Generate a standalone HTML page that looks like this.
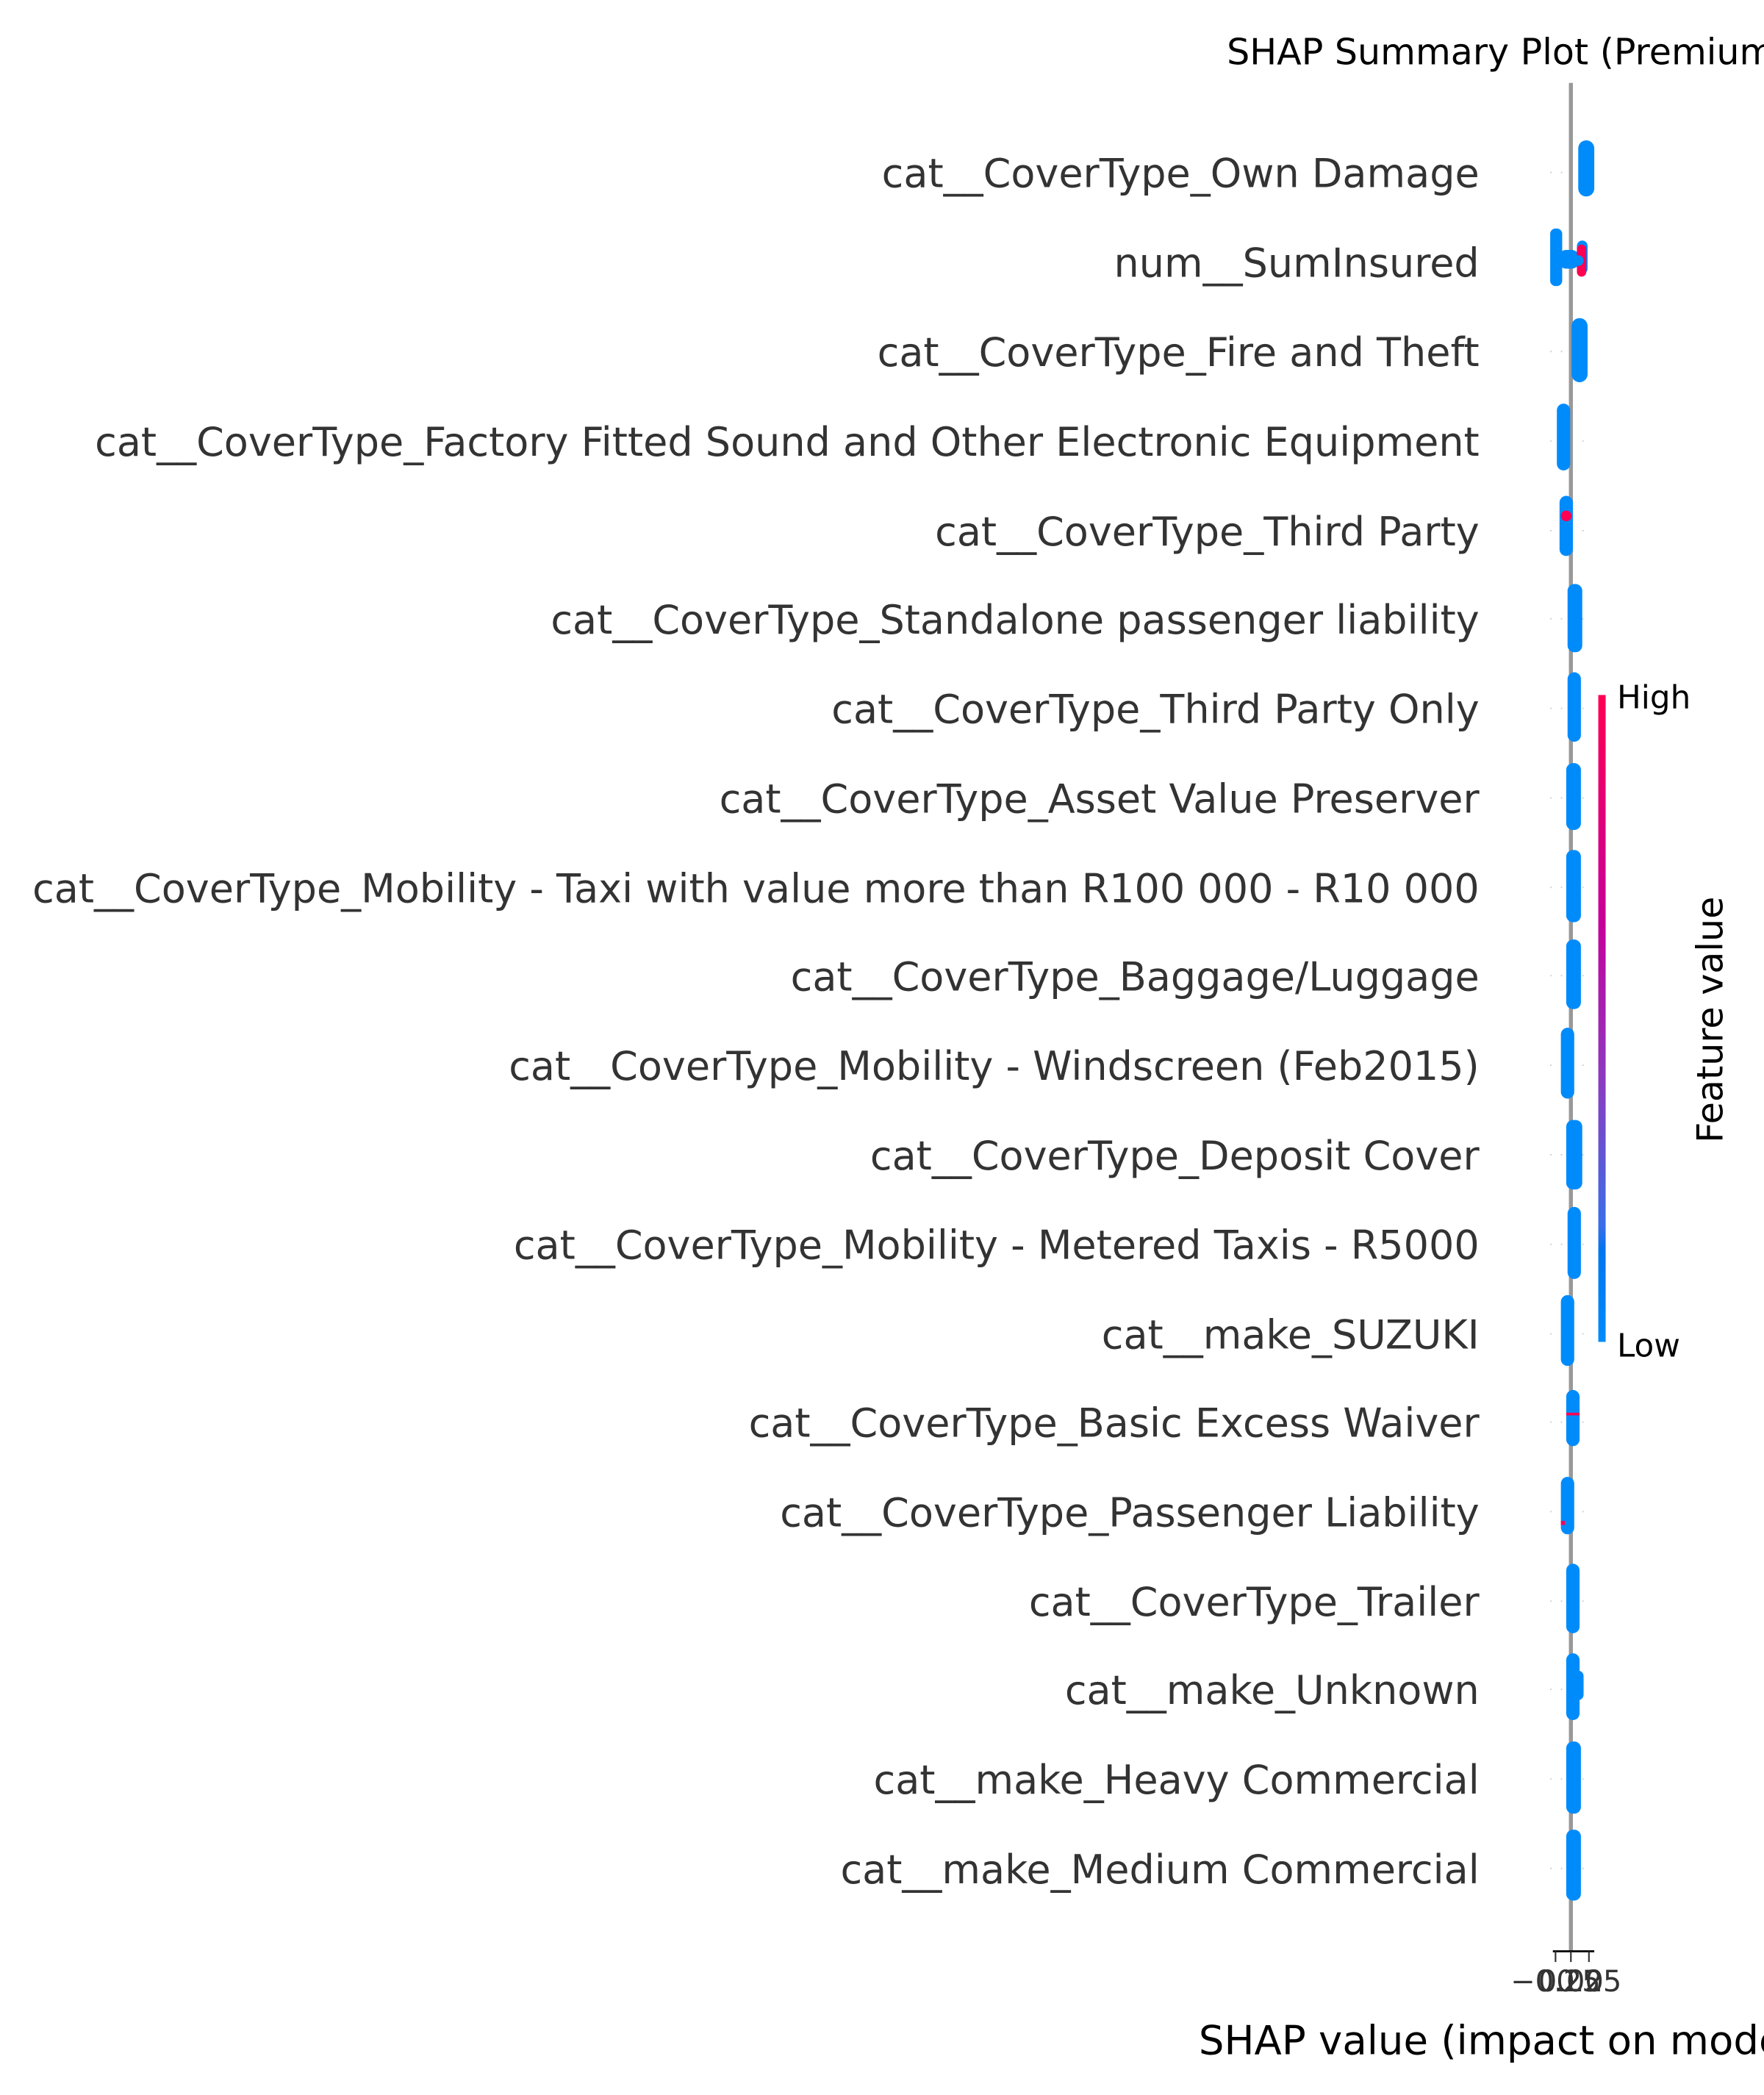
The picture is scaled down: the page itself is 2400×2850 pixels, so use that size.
<!DOCTYPE html>
<html><head><meta charset="utf-8"><style>html,body{margin:0;padding:0;background:#fff;}svg{display:block}</style></head>
<body>
<svg width="2400" height="2850" viewBox="0 0 1320 1567.5" xmlns="http://www.w3.org/2000/svg" font-family="DejaVu Sans, Liberation Sans, sans-serif">
<defs>
<linearGradient id="cb" x1="0" y1="0" x2="0" y2="1">
<stop offset="0" stop-color="#ff0052"/>
<stop offset="0.35" stop-color="#c6009a"/>
<stop offset="0.6" stop-color="#8a3cc0"/>
<stop offset="0.82" stop-color="#3a6ee8"/>
<stop offset="0.86" stop-color="#0076ee"/>
<stop offset="1" stop-color="#008bfb"/>
</linearGradient>
</defs>
<rect width="1320" height="1567.5" fill="#fff"/>
<text x="918" y="48" font-size="27" fill="#000">SHAP Summary Plot (Premium)</text>
<g stroke="#ccc" stroke-width="1" stroke-dasharray="1,7">
<line x1="1160" y1="129" x2="1192" y2="129"/><line x1="1160" y1="196" x2="1192" y2="196"/><line x1="1160" y1="263" x2="1192" y2="263"/><line x1="1160" y1="330" x2="1192" y2="330"/><line x1="1160" y1="397" x2="1192" y2="397"/><line x1="1160" y1="463" x2="1192" y2="463"/><line x1="1160" y1="530" x2="1192" y2="530"/><line x1="1160" y1="597" x2="1192" y2="597"/><line x1="1160" y1="664" x2="1192" y2="664"/><line x1="1160" y1="730" x2="1192" y2="730"/><line x1="1160" y1="797" x2="1192" y2="797"/><line x1="1160" y1="864" x2="1192" y2="864"/><line x1="1160" y1="931" x2="1192" y2="931"/><line x1="1160" y1="998" x2="1192" y2="998"/><line x1="1160" y1="1064" x2="1192" y2="1064"/><line x1="1160" y1="1131" x2="1192" y2="1131"/><line x1="1160" y1="1198" x2="1192" y2="1198"/><line x1="1160" y1="1264" x2="1192" y2="1264"/><line x1="1160" y1="1331" x2="1192" y2="1331"/><line x1="1160" y1="1398" x2="1192" y2="1398"/>
</g>
<line x1="1175.5" y1="62" x2="1175.5" y2="1460" stroke="#999" stroke-width="3"/>
<g font-size="29.7" fill="#333" text-anchor="end">
<text x="1107" y="140">cat__CoverType_Own Damage</text>
<text x="1107" y="207">num__SumInsured</text>
<text x="1107" y="274">cat__CoverType_Fire and Theft</text>
<text x="1107" y="341">cat__CoverType_Factory Fitted Sound and Other Electronic Equipment</text>
<text x="1107" y="408">cat__CoverType_Third Party</text>
<text x="1107" y="474">cat__CoverType_Standalone passenger liability</text>
<text x="1107" y="541">cat__CoverType_Third Party Only</text>
<text x="1107" y="608">cat__CoverType_Asset Value Preserver</text>
<text x="1107" y="675">cat__CoverType_Mobility - Taxi with value more than R100 000 - R10 000</text>
<text x="1107" y="741">cat__CoverType_Baggage/Luggage</text>
<text x="1107" y="808">cat__CoverType_Mobility - Windscreen (Feb2015)</text>
<text x="1107" y="875">cat__CoverType_Deposit Cover</text>
<text x="1107" y="942">cat__CoverType_Mobility - Metered Taxis - R5000</text>
<text x="1107" y="1009">cat__make_SUZUKI</text>
<text x="1107" y="1075">cat__CoverType_Basic Excess Waiver</text>
<text x="1107" y="1142">cat__CoverType_Passenger Liability</text>
<text x="1107" y="1209">cat__CoverType_Trailer</text>
<text x="1107" y="1275">cat__make_Unknown</text>
<text x="1107" y="1342">cat__make_Heavy Commercial</text>
<text x="1107" y="1409">cat__make_Medium Commercial</text>
</g>
<g fill="#008bfb">
<rect x="1181" y="105" width="12" height="42" rx="6"/>
<rect x="1160" y="171" width="9" height="43" rx="4"/>
<rect x="1166" y="187" width="16" height="14" rx="6"/>
<rect x="1180" y="180" width="8" height="25" rx="4"/>
<rect x="1176" y="238" width="12" height="48" rx="6"/>
<rect x="1165" y="302" width="10" height="50" rx="5"/>
<rect x="1167" y="371" width="10" height="45" rx="5"/>
<rect x="1173" y="437" width="11" height="51" rx="5"/>
<rect x="1173" y="503" width="10" height="52" rx="5"/>
<rect x="1172" y="571" width="11" height="50" rx="5"/>
<rect x="1172" y="636" width="11" height="54" rx="5"/>
<rect x="1172" y="703" width="11" height="52" rx="5"/>
<rect x="1168" y="769" width="10" height="53" rx="5"/>
<rect x="1172" y="838" width="12" height="52" rx="5"/>
<rect x="1173" y="903" width="10" height="54" rx="5"/>
<rect x="1168" y="969" width="10" height="53" rx="5"/>
<rect x="1172" y="1040" width="10" height="42" rx="5"/>
<rect x="1168" y="1105" width="10" height="43" rx="5"/>
<rect x="1172" y="1170" width="10" height="52" rx="5"/>
<rect x="1172" y="1237" width="10" height="50" rx="5"/>
<rect x="1176" y="1250" width="9" height="22" rx="4"/>
<rect x="1172" y="1303" width="11" height="54" rx="5"/>
<rect x="1172" y="1369" width="11" height="53" rx="5"/>
</g>
<g fill="#ff0052">
<rect x="1180" y="183" width="7" height="24" rx="3.5"/>
<circle cx="1172" cy="386" r="4"/>
<rect x="1172" y="1057" width="10" height="2"/>
<rect x="1168" y="1138" width="3" height="3"/>
</g>
<circle cx="1181" cy="195" r="4" fill="#008bfb"/>
<line x1="1162" y1="1460" x2="1193" y2="1460" stroke="#000" stroke-width="1.5"/>
<g stroke="#333" stroke-width="1.2">
<line x1="1164" y1="1460" x2="1164" y2="1468"/>
<line x1="1175.5" y1="1460" x2="1175.5" y2="1468"/>
<line x1="1189" y1="1460" x2="1189" y2="1468"/>
</g>
<g font-size="22" fill="#333" text-anchor="middle">
<text x="1164" y="1490">−0.25</text>
<text x="1175.5" y="1490">0.00</text>
<text x="1189" y="1490">0.25</text>
</g>
<text x="897" y="1537" font-size="30" fill="#000">SHAP value (impact on model output)</text>
<rect x="1196" y="520" width="5.5" height="484" fill="url(#cb)"/>
<text x="1210" y="530" font-size="24" fill="#000">High</text>
<text x="1210" y="1015" font-size="24" fill="#000">Low</text>
<text transform="translate(1289,763) rotate(-90)" font-size="27" fill="#000" text-anchor="middle">Feature value</text>
</svg>
</body></html>
